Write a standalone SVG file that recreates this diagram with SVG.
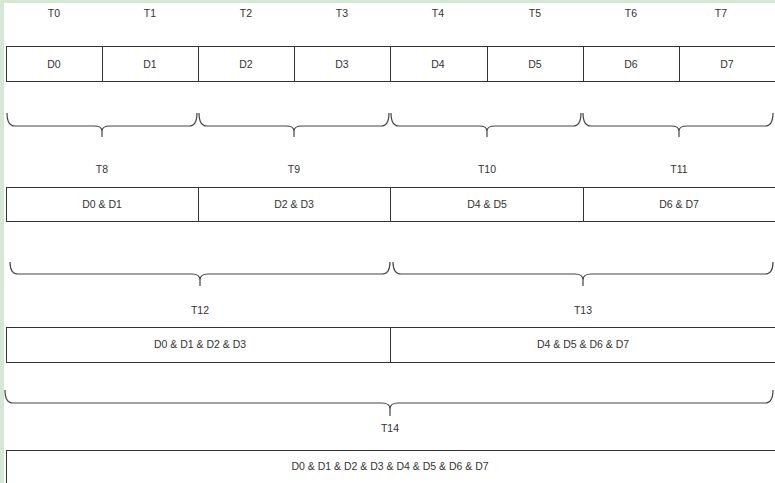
<svg xmlns="http://www.w3.org/2000/svg" width="775" height="483" viewBox="0 0 775 483">
<style>
.box{fill:#fff;stroke:#333;stroke-width:1}
.br{fill:none;stroke:#444;stroke-width:1.2}
text{font-family:"Liberation Sans",Arial,sans-serif;font-size:10.5px;fill:#333;text-anchor:middle;dominant-baseline:central}
</style>
<rect x="0" y="0" width="775" height="483" fill="#fff"/>
<rect x="0" y="0" width="775" height="3" fill="#d5e8d4"/>
<rect x="0" y="0" width="4" height="483" fill="#d5e8d4"/>
<g id="labels">
<text x="54" y="13">T0</text><text x="150" y="13">T1</text><text x="246" y="13">T2</text><text x="342" y="13">T3</text>
<text x="438" y="13">T4</text><text x="535" y="13">T5</text><text x="631" y="13">T6</text><text x="721" y="13">T7</text>
<text x="102" y="169">T8</text><text x="294" y="169">T9</text><text x="487" y="169">T10</text><text x="679" y="169">T11</text>
<text x="200" y="310">T12</text><text x="583" y="310">T13</text>
<text x="390" y="428">T14</text>
</g>
<g id="row1">
<g id="d0"><rect class="box" x="6.5" y="46.5" width="96" height="35"/><text x="54" y="64">D0</text></g>
<g id="d1"><rect class="box" x="102.5" y="46.5" width="96" height="35"/><text x="150" y="64">D1</text></g>
<g id="d2"><rect class="box" x="198.5" y="46.5" width="96" height="35"/><text x="246" y="64">D2</text></g>
<g id="d3"><rect class="box" x="294.5" y="46.5" width="96" height="35"/><text x="342" y="64">D3</text></g>
<g id="d4"><rect class="box" x="390.5" y="46.5" width="97" height="35"/><text x="438" y="64">D4</text></g>
<g id="d5"><rect class="box" x="487.5" y="46.5" width="96" height="35"/><text x="535" y="64">D5</text></g>
<g id="d6"><rect class="box" x="583.5" y="46.5" width="96" height="35"/><text x="631" y="64">D6</text></g>
<g id="d7"><rect class="box" x="679.5" y="46.5" width="100" height="35"/><text x="727" y="64">D7</text></g>
</g>
<g id="row2">
<g id="d01"><rect class="box" x="6.5" y="187.5" width="192" height="34"/><text x="102" y="204">D0 &amp; D1</text></g>
<g id="d23"><rect class="box" x="198.5" y="187.5" width="192" height="34"/><text x="294" y="204">D2 &amp; D3</text></g>
<g id="d45"><rect class="box" x="390.5" y="187.5" width="193" height="34"/><text x="487" y="204">D4 &amp; D5</text></g>
<g id="d67"><rect class="box" x="583.5" y="187.5" width="196" height="34"/><text x="679" y="204">D6 &amp; D7</text></g>
</g>
<g id="row3">
<g id="d0123"><rect class="box" x="6.5" y="327.5" width="384" height="35"/><text x="200" y="344">D0 &amp; D1 &amp; D2 &amp; D3</text></g>
<g id="d4567"><rect class="box" x="390.5" y="327.5" width="389" height="35"/><text x="583" y="344">D4 &amp; D5 &amp; D6 &amp; D7</text></g>
</g>
<g id="row4">
<g id="dall"><rect class="box" x="6.5" y="450.5" width="773" height="40"/><text x="390" y="466">D0 &amp; D1 &amp; D2 &amp; D3 &amp; D4 &amp; D5 &amp; D6 &amp; D7</text></g>
</g>
<g id="connectors">
<path class="br" d="M7,113 Q7,126 15,126 L94,126 Q102,126 102,131 L102,137 M102,131 Q102,126 110,126 L189,126 Q197,126 197,113"/>
<path class="br" d="M199,113 Q199,126 207,126 L286,126 Q294,126 294,131 L294,137 M294,131 Q294,126 302,126 L381,126 Q389,126 389,113"/>
<path class="br" d="M391,113 Q391,126 399,126 L479,126 Q487,126 487,131 L487,137 M487,131 Q487,126 495,126 L573,126 Q581,126 581,113"/>
<path class="br" d="M583,113 Q583,126 591,126 L671,126 Q679,126 679,131 L679,137 M679,131 Q679,126 687,126 L765,126 Q773,126 773,113"/>
<path class="br" d="M10,262 Q10,274 18,274 L192,274 Q200,274 200,280 L200,286 M200,280 Q200,274 208,274 L382,274 Q390,274 390,262"/>
<path class="br" d="M393,262 Q393,274 401,274 L575,274 Q583,274 583,280 L583,286 M583,280 Q583,274 591,274 L765,274 Q773,274 773,262"/>
<path class="br" d="M5,390 Q5,403 13,403 L382,403 Q390,403 390,409 L390,416 M390,409 Q390,403 398,403 L765,403 Q773,403 773,390"/>
</g>
</svg>
